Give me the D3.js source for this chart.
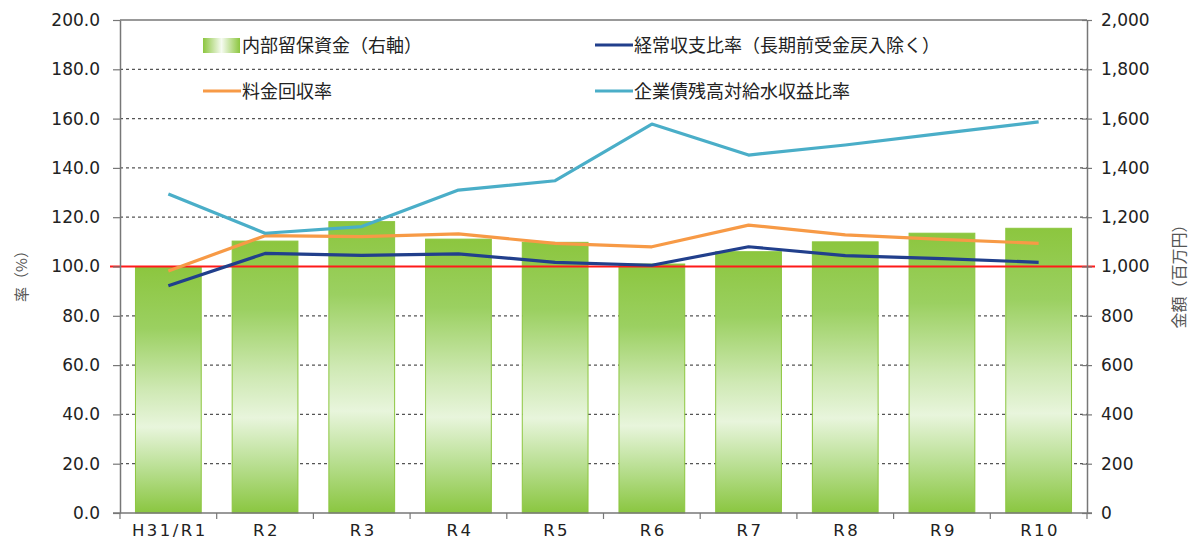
<!DOCTYPE html>
<html lang="ja">
<head>
<meta charset="utf-8">
<script src="https://cdn.jsdelivr.net/npm/d3@7"></script>
<style>
  html, body { margin: 0; padding: 0; background: #fff; }
  svg { display: block; }
  text { font-family: "DejaVu Sans", Verdana, sans-serif; }
  .jp { font-family: "Noto Sans CJK JP", "Noto Sans", sans-serif; }
</style>
</head>
<body>
<svg id="chart" width="1198" height="556"></svg>
<script>
// 年度
const categories = ["H31/R1", "R2", "R3", "R4", "R5", "R6", "R7", "R8", "R9", "R10"];

// 内部留保資金（百万円・右軸）
const reserveFunds = [998, 1103, 1182, 1111, 1098, 1010, 1060, 1100, 1135, 1155];
// 経常収支比率（長期前受金戻入除く）(%)
const ordinaryRatio = [92.2, 105.3, 104.5, 105.1, 101.7, 100.5, 108.0, 104.4, 103.2, 101.7];
// 料金回収率 (%)
const recoveryRatio = [98.2, 112.5, 112.1, 113.2, 109.4, 108.0, 116.8, 112.8, 111.0, 109.4];
// 企業債残高対給水収益比率 (%)
const debtRatio = [129.4, 113.5, 116.2, 131.0, 134.8, 157.8, 145.2, 149.3, 154.0, 158.7];

// 軸目盛
const leftTicks = [0, 20, 40, 60, 80, 100, 120, 140, 160, 180, 200];
const rightTicks = [0, 200, 400, 600, 800, 1000, 1200, 1400, 1600, 1800, 2000];

const legendItems = [
  { label: "内部留保資金（右軸）", type: "bar", color: "#8dc641" },
  { label: "経常収支比率（長期前受金戻入除く）", type: "line", color: "#213f8c" },
  { label: "料金回収率", type: "line", color: "#f79a46" },
  { label: "企業債残高対給水収益比率", type: "line", color: "#4aaec8" }
];

const lineSeries = [
  { values: ordinaryRatio, color: "#213f8c" },
  { values: recoveryRatio, color: "#f79a46" },
  { values: debtRatio, color: "#4aaec8" }
];

const svg = d3.select("#chart");
const plotLeft = 120, plotRight = 1087, plotTop = 20, plotBottom = 513;

const x = d3.scaleBand().domain(categories).range([plotLeft, plotRight]).padding(0);
const yL = d3.scaleLinear().domain([0, 200]).range([plotBottom, plotTop]);
const yR = d3.scaleLinear().domain([0, 2000]).range([plotBottom, plotTop]);
const barW = x.bandwidth() * 0.68;
const cx = d => x(d) + x.bandwidth() / 2;

// bar gradient
const defs = svg.append("defs");
const grad = defs.append("linearGradient").attr("id", "barGrad")
  .attr("x1", 0).attr("y1", 0).attr("x2", 0).attr("y2", 1);
[[0, "#8cc63f"], [0.25, "#9bd061"], [0.5, "#cfe9b4"], [0.65, "#e8f5dc"], [0.82, "#b9df92"], [1, "#8ac640"]]
  .forEach(([o, c]) => grad.append("stop").attr("offset", o).attr("stop-color", c));
const lgGrad = defs.append("linearGradient").attr("id", "legendGrad")
  .attr("x1", 0).attr("y1", 0).attr("x2", 1).attr("y2", 0);
[[0, "#8cc63f"], [0.5, "#f6fbf1"], [1, "#8cc63f"]]
  .forEach(([o, c]) => lgGrad.append("stop").attr("offset", o).attr("stop-color", c));

// dashed gridlines
svg.append("g").selectAll("line")
  .data(leftTicks.filter(v => v > 0 && v < 200 && v !== 100))
  .join("line")
  .attr("x1", plotLeft).attr("x2", plotRight)
  .attr("y1", d => yL(d)).attr("y2", d => yL(d))
  .attr("stroke", "#555").attr("stroke-width", 1.2).attr("stroke-dasharray", "3,3");

// bars
svg.append("g").selectAll("rect")
  .data(categories)
  .join("rect")
  .attr("x", d => cx(d) - barW / 2)
  .attr("width", barW)
  .attr("y", (d, i) => yR(reserveFunds[i]))
  .attr("height", (d, i) => plotBottom - yR(reserveFunds[i]))
  .attr("fill", "url(#barGrad)")
  .attr("stroke", "#8cc63f").attr("stroke-width", 1);

// 100% reference line
svg.append("line")
  .attr("x1", plotLeft - 10).attr("x2", plotRight + 8)
  .attr("y1", yL(100)).attr("y2", yL(100))
  .attr("stroke", "#ff1a1a").attr("stroke-width", 2);

// lines
const lineGen = d3.line().x((v, i) => cx(categories[i])).y(v => yL(v));
svg.append("g").selectAll("path")
  .data(lineSeries)
  .join("path")
  .attr("d", s => lineGen(s.values))
  .attr("fill", "none")
  .attr("stroke", s => s.color)
  .attr("stroke-width", 3.2)
  .attr("stroke-linejoin", "round");

// frame: top border
svg.append("line").attr("x1", plotLeft).attr("x2", plotRight).attr("y1", plotTop).attr("y2", plotTop)
  .attr("stroke", "#777").attr("stroke-width", 1.5);

// left axis
const axL = svg.append("g").attr("transform", `translate(${plotLeft},0)`)
  .call(d3.axisLeft(yL).tickValues(leftTicks).tickFormat(d3.format(".1f")).tickSizeInner(7).tickSizeOuter(0).tickPadding(13));
axL.select(".domain").attr("stroke", "#777").attr("stroke-width", 1.5);
axL.selectAll(".tick line").attr("stroke", "#777").attr("stroke-width", 1.2);
axL.selectAll(".tick text").attr("font-size", 17).attr("fill", "#222")
  .attr("font-family", "DejaVu Sans, Verdana, sans-serif");

// right axis
const axR = svg.append("g").attr("transform", `translate(${plotRight},0)`)
  .call(d3.axisRight(yR).tickValues(rightTicks).tickFormat(d3.format(",")).tickSizeInner(5).tickSizeOuter(0).tickPadding(9));
axR.select(".domain").attr("stroke", "#777").attr("stroke-width", 1.5);
axR.selectAll(".tick line").attr("stroke", "#777").attr("stroke-width", 1.2).attr("x1", -5);
axR.selectAll(".tick text").attr("font-size", 17).attr("fill", "#222")
  .attr("font-family", "DejaVu Sans, Verdana, sans-serif");

// bottom axis
const axB = svg.append("g");
axB.append("line").attr("x1", plotLeft - 7).attr("x2", plotRight + 5).attr("y1", plotBottom).attr("y2", plotBottom)
  .attr("stroke", "#777").attr("stroke-width", 1.5);
axB.selectAll("line.tk")
  .data(categories.map(d => x(d)).concat([plotRight]))
  .join("line").attr("class", "tk")
  .attr("x1", d => d).attr("x2", d => d)
  .attr("y1", plotBottom).attr("y2", plotBottom + 6)
  .attr("stroke", "#777").attr("stroke-width", 1.2);
axB.selectAll("text")
  .data(categories)
  .join("text")
  .attr("x", d => cx(d) + 1.5)
  .attr("y", plotBottom + 23)
  .attr("text-anchor", "middle")
  .attr("font-size", 16.5)
  .attr("letter-spacing", 2.5)
  .attr("fill", "#222")
  .text(d => d);

// axis titles
svg.append("text").attr("class", "jp")
  .attr("transform", `translate(27,${yL(100) + 6}) rotate(-90)`)
  .attr("text-anchor", "middle").attr("font-size", 15).attr("fill", "#555")
  .text("率（%）");
svg.append("text").attr("class", "jp")
  .attr("transform", `translate(1185,${yL(100) + 6}) rotate(-90)`)
  .attr("text-anchor", "middle").attr("font-size", 16).attr("fill", "#555")
  .text("金額（百万円）");

// legend
const legendPos = [[203, 45], [595, 45], [203, 91], [595, 91]];
const lg = svg.append("g").selectAll("g")
  .data(legendItems)
  .join("g")
  .attr("transform", (d, i) => `translate(${legendPos[i][0]},${legendPos[i][1]})`);
lg.filter(d => d.type === "bar").append("rect")
  .attr("x", 0).attr("y", -7).attr("width", 37).attr("height", 15)
  .attr("fill", "url(#legendGrad)");
lg.filter(d => d.type === "line").append("line")
  .attr("x1", 0).attr("x2", 38).attr("y1", 0).attr("y2", 0)
  .attr("stroke", d => d.color).attr("stroke-width", 3.2);
lg.append("text").attr("class", "jp")
  .attr("x", 39).attr("y", 6.5)
  .attr("font-size", 18).attr("fill", "#222")
  .text(d => d.label);
</script>
</body>
</html>
